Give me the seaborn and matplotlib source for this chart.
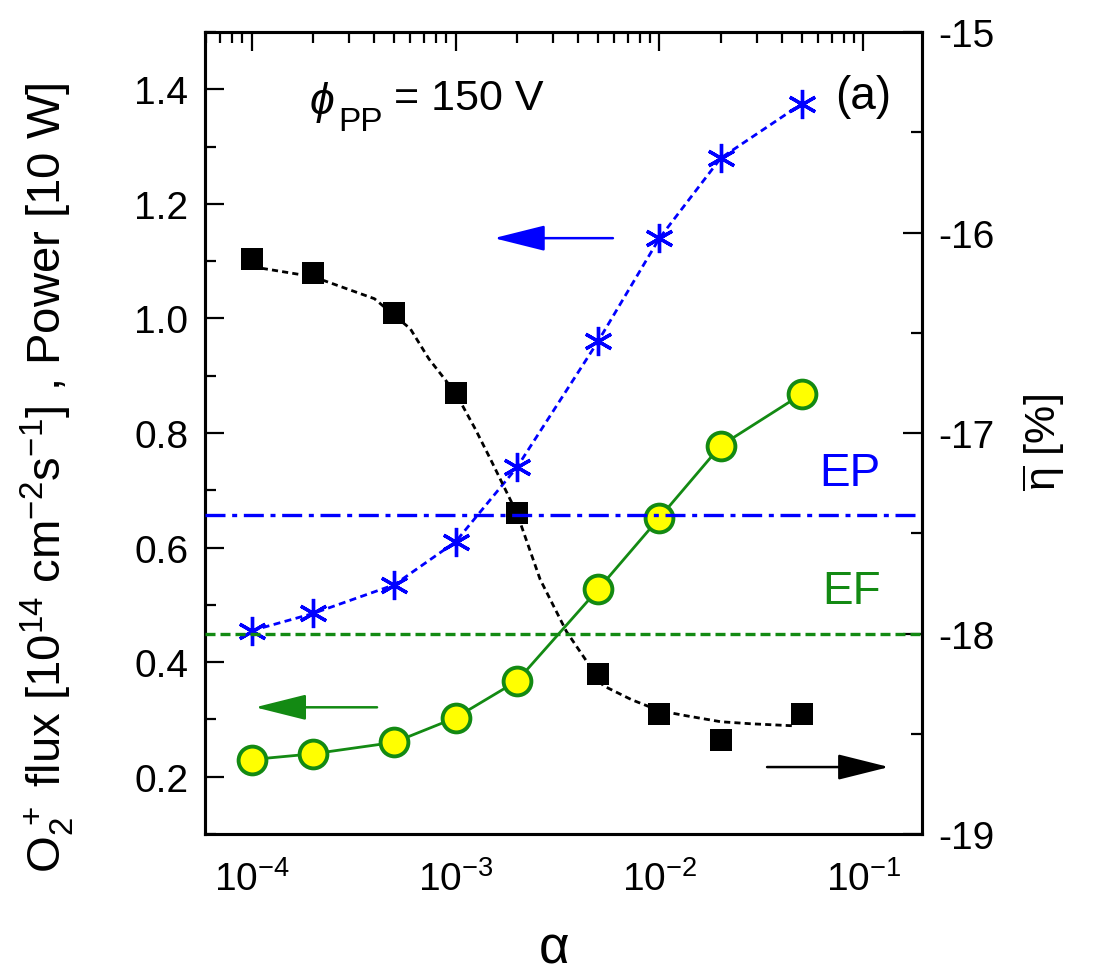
import numpy as np
import pandas as pd
import matplotlib
matplotlib.use("Agg")
import matplotlib.pyplot as plt
import seaborn as sns
from matplotlib.ticker import MultipleLocator, LogLocator, FixedLocator, FormatStrFormatter, NullFormatter

# ---------------- data ----------------
alpha = [1e-4, 2e-4, 5e-4, 1e-3, 2e-3, 5e-3, 1e-2, 2e-2, 5e-2]
power = [0.455, 0.485, 0.535, 0.61, 0.74, 0.96, 1.14, 1.28, 1.375]      # blue stars (left axis)
flux = [0.23, 0.24, 0.26, 0.303, 0.367, 0.527, 0.652, 0.778, 0.868]     # yellow circles (left axis)
eta = [-16.13, -16.20, -16.40, -16.80, -17.40, -18.20, -18.40, -18.53, -18.40]  # black squares (right axis)

# fitted (dashed black) curve
fit_alpha = [1.0e-4, 2.0e-4, 4.0e-4, 6.0e-4, 7.4e-4, 1.0e-3, 1.25e-3, 1.5e-3, 2.0e-3,
             2.6e-3, 3.5e-3, 5.3e-3, 7.3e-3, 1.0e-2, 1.35e-2, 2.0e-2, 2.8e-2, 4.5e-2]
fit_eta = [-16.17, -16.22, -16.33, -16.48, -16.63, -16.80, -16.98, -17.14, -17.40,
           -17.73, -17.99, -18.26, -18.33, -18.385, -18.41, -18.44, -18.45, -18.46]

ep_level = -17.41
ef_level = -18.0

left_ticks = [0.2, 0.4, 0.6, 0.8, 1.0, 1.2, 1.4]
right_ticks = [-19, -18, -17, -16, -15]
x_ticks = [1e-4, 1e-3, 1e-2, 1e-1]

# ---------------- style ----------------
sns.set_style("white")
plt.rcParams["font.family"] = ["Liberation Sans", "DejaVu Sans"]
plt.rcParams["mathtext.fontset"] = "custom"
plt.rcParams["mathtext.rm"] = "Liberation Sans"
plt.rcParams["mathtext.it"] = "Liberation Sans:italic"
plt.rcParams["mathtext.sf"] = "Liberation Sans"
plt.rcParams["axes.unicode_minus"] = False
for k in ("text.color", "axes.labelcolor", "xtick.color", "ytick.color"):
    plt.rcParams[k] = "black"

BLUE = "#0000ff"
GREEN = "#138a13"
YELLOW = "#ffff00"

fig = plt.figure(figsize=(11.02, 9.78), dpi=100)
ax = fig.add_axes([0.186, 0.1462, 0.6506, 0.820])
ax2 = ax.twinx()

df = pd.DataFrame({"alpha": alpha, "power": power, "flux": flux, "eta": eta})
fit = pd.DataFrame({"alpha": fit_alpha, "eta": fit_eta})

# left-axis series
sns.lineplot(data=df, x="alpha", y="power", ax=ax, color=BLUE, linestyle=(0, (2.5, 1.6)),
             linewidth=2.0, marker=(6, 2, 0), markersize=21, markeredgewidth=2.4,
             markeredgecolor=BLUE, zorder=3)
sns.lineplot(data=df, x="alpha", y="flux", ax=ax, color=GREEN, linestyle="-",
             linewidth=2.0, marker="o", markersize=20, markerfacecolor=YELLOW,
             markeredgecolor=GREEN, markeredgewidth=2.8, zorder=3)

# right-axis series
sns.lineplot(data=fit, x="alpha", y="eta", ax=ax2, color="black", linestyle=(0, (2.2, 1.5)),
             linewidth=2.0, zorder=2)
sns.scatterplot(data=df, x="alpha", y="eta", ax=ax2, color="black", marker="s", s=260,
                edgecolor="black", linewidth=0, zorder=3)
ax2.axhline(ep_level, color=BLUE, linestyle=(0, (6, 2, 1.5, 2)), linewidth=2.4, zorder=4)
ax2.axhline(ef_level, color=GREEN, linestyle=(0, (3, 1.5)), linewidth=2.4, zorder=4)

# ---------------- axes ----------------
ax.set_xscale("log")
ax.set_xlim(5.9e-5, 0.194)
ax.set_ylim(0.1, 1.5)
ax2.set_ylim(-19, -15)

ax.xaxis.set_major_locator(FixedLocator(x_ticks))
ax.xaxis.set_minor_locator(LogLocator(base=10, subs=np.arange(2, 10), numticks=20))
ax.xaxis.set_minor_formatter(NullFormatter())
ax.yaxis.set_major_locator(FixedLocator(left_ticks))
ax.yaxis.set_minor_locator(MultipleLocator(0.1))
ax.yaxis.set_major_formatter(FormatStrFormatter("%.1f"))
ax2.yaxis.set_major_locator(FixedLocator(right_ticks))
ax2.yaxis.set_minor_locator(MultipleLocator(0.5))
ax2.yaxis.set_major_formatter(FormatStrFormatter("%d"))

for a in (ax, ax2):
    for s in a.spines.values():
        s.set_linewidth(2.2)
        s.set_color("black")

ax.tick_params(axis="both", which="major", direction="in", length=14, width=1.6,
               labelsize=28, pad=12, top=True, right=False)
ax.tick_params(axis="both", which="minor", direction="in", length=8, width=1.6,
               top=True, right=False)
ax.tick_params(axis="x", which="major", pad=19)
ax2.tick_params(axis="y", which="major", direction="in", length=14, width=1.6,
                labelsize=28, pad=12)
ax2.tick_params(axis="y", which="minor", direction="in", length=8, width=1.6)

ax.set_xlabel("α", fontsize=38)
ax.xaxis.set_label_coords(0.487, -0.112)
ax.set_ylabel(r"O$_2^{\,+}$ flux [10$^{14}$ cm$^{-2}$s$^{-1}$] , Power [10 W]", fontsize=34)
ax.yaxis.set_label_coords(-0.180, 0.446)
ax2.set_ylabel(r"$\overline{\mathrm{\eta}}$ [%]", fontsize=31)
ax2.yaxis.set_label_coords(1.137, 0.49)

# ---------------- annotations ----------------
ax2.text(0.146, 0.914, "ϕ", transform=ax2.transAxes, fontsize=32, va="center", ha="left",
         style="italic")
ax2.text(0.186, 0.888, "PP", transform=ax2.transAxes, fontsize=24, va="center", ha="left")
ax2.text(0.264, 0.918, "= 150 V", transform=ax2.transAxes, fontsize=31, va="center", ha="left")
ax2.text(0.918, 0.920, "(a)", transform=ax2.transAxes, fontsize=33, va="center", ha="center")
ax2.text(0.900, 0.450, "EP", transform=ax2.transAxes, fontsize=33, va="center",
         ha="center", color=BLUE)
ax2.text(0.902, 0.303, "EF", transform=ax2.transAxes, fontsize=33, va="center",
         ha="center", color=GREEN)

arrow_kw = dict(arrowstyle="-|>,head_length=1.6,head_width=0.4", lw=1.8,
                shrinkA=0, shrinkB=0, mutation_scale=20)
ax2.annotate("", xy=(0.403, 0.743), xytext=(0.569, 0.743), xycoords="axes fraction",
             arrowprops=dict(color=BLUE, **arrow_kw))
ax2.annotate("", xy=(0.070, 0.158), xytext=(0.240, 0.158), xycoords="axes fraction",
             arrowprops=dict(color=GREEN, **arrow_kw))
ax2.annotate("", xy=(0.954, 0.0835), xytext=(0.784, 0.0835), xycoords="axes fraction",
             arrowprops=dict(color="black", **arrow_kw))

if ax2.get_legend() is not None:
    ax2.get_legend().remove()
if ax.get_legend() is not None:
    ax.get_legend().remove()

fig.savefig("out.png", dpi=100)
